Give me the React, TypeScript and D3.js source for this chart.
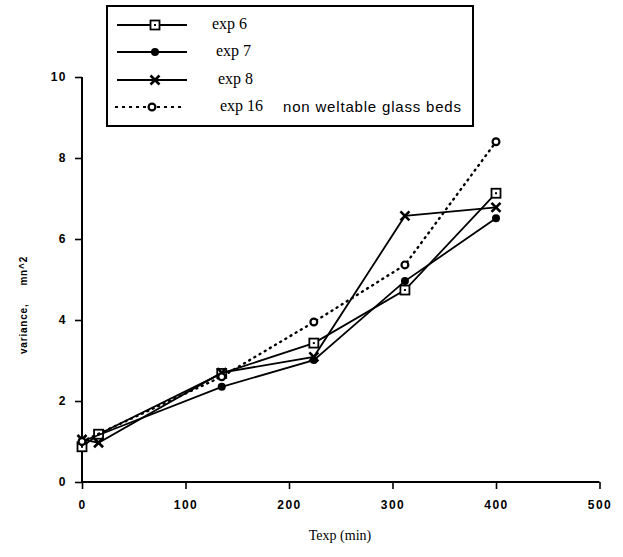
import { useEffect, useRef } from "react";
import * as d3 from "d3";

// series
const times6 = [0, 16, 135, 224, 312, 400];
const values6 = [0.87, 1.18, 2.68, 3.43, 4.74, 7.13];
const times7 = [0, 135, 224, 312, 400];
const values7 = [1.0, 2.35, 3.01, 4.96, 6.51];
const times8 = [0, 16, 135, 224, 312, 400];
const values8 = [1.05, 0.97, 2.7, 3.09, 6.57, 6.78];
const times16 = [0, 135, 224, 312, 400];
const values16 = [1.0, 2.6, 3.95, 5.36, 8.4];

const seriesNames = ["exp 6", "exp 7", "exp 8", "exp 16"];
const legendNote = "non weltable glass beds";
const xMajorTicks = [0, 100, 200, 300, 400, 500];
const xMinorTicks = [50, 150, 250, 350, 450];
const yMajorTicks = [0, 2, 4, 6, 8, 10];
const yMinorTicks = [1, 3, 5, 7, 9];

const App = () => {
  const ref = useRef<SVGSVGElement>(null);

  useEffect(() => {
    document.body.style.margin = "0";
    const svg = d3.select(ref.current);
    svg.selectAll("*").remove();

    const x = d3.scaleLinear().domain([0, 500]).range([82, 599.5]);
    const y = d3.scaleLinear().domain([0, 10]).range([482, 77]);

    const sans = "'Liberation Sans', Arial, sans-serif";
    const serif = "'Liberation Serif', 'Times New Roman', serif";

    // axes
    const gx = svg.append("g").attr("transform", `translate(0,${y(0)})`);
    gx.call(d3.axisBottom(x).tickValues(xMinorTicks).tickSize(4).tickFormat(() => ""));
    gx.call(d3.axisBottom(x).tickValues(xMajorTicks).tickSize(7).tickPadding(11).tickFormat(d3.format("d")));
    gx.selectAll("path.domain").attr("stroke-width", 2).attr("d", `M${x(0)},0H${x(500)}`);

    const gy = svg.append("g").attr("transform", `translate(${x(0)},0)`);
    gy.call(d3.axisLeft(y).tickValues(yMinorTicks).tickSize(4).tickFormat(() => ""));
    gy.call(d3.axisLeft(y).tickValues(yMajorTicks).tickSize(7).tickPadding(8).tickFormat(d3.format("d")));
    gy.selectAll("path.domain").attr("stroke-width", 2).attr("d", `M0,${y(0)}V${y(10)}`);

    svg.selectAll(".tick line").attr("stroke", "#000").attr("stroke-width", 1.6);
    svg
      .selectAll(".tick text")
      .attr("fill", "#000")
      .style("font-family", sans)
      .style("font-size", "12px")
      .style("font-weight", "bold")
      .style("letter-spacing", "1.5px");

    // axis titles
    svg
      .append("text")
      .attr("x", 340)
      .attr("y", 540)
      .attr("text-anchor", "middle")
      .style("font-family", serif)
      .style("font-size", "14px")
      .text("Texp (min)");

    svg
      .append("text")
      .attr("transform", "translate(27,305) rotate(-90)")
      .attr("text-anchor", "middle")
      .style("font-family", sans)
      .style("font-size", "10px")
      .style("font-weight", "bold")
      .style("letter-spacing", "0.8px")
      .style("white-space", "pre")
      .text("variance,     mn^2");

    const line = d3
      .line<[number, number]>()
      .x((d) => x(d[0]))
      .y((d) => y(d[1]));

    const series = [
      { t: times6, v: values6, dash: null, marker: "square" },
      { t: times7, v: values7, dash: null, marker: "dot" },
      { t: times8, v: values8, dash: null, marker: "cross" },
      { t: times16, v: values16, dash: "1,5", marker: "circle" },
    ];

    const drawMarker = (g: any, kind: string, cx: number, cy: number) => {
      if (kind === "square") {
        g.append("rect")
          .attr("x", cx - 4.5)
          .attr("y", cy - 4.5)
          .attr("width", 9)
          .attr("height", 9)
          .attr("fill", "#fff")
          .attr("stroke", "#000")
          .attr("stroke-width", 1.8);
        g.append("rect").attr("x", cx - 1).attr("y", cy - 1).attr("width", 2).attr("height", 2).attr("fill", "#000");
      } else if (kind === "dot") {
        g.append("circle").attr("cx", cx).attr("cy", cy).attr("r", 4).attr("fill", "#000");
      } else if (kind === "cross") {
        const s = 4.5;
        g.append("path")
          .attr("d", `M${cx - s},${cy - s}L${cx + s},${cy + s}M${cx - s},${cy + s}L${cx + s},${cy - s}`)
          .attr("stroke", "#000")
          .attr("stroke-width", 2.6);
      } else {
        g.append("circle")
          .attr("cx", cx)
          .attr("cy", cy)
          .attr("r", 3.4)
          .attr("fill", "#fff")
          .attr("stroke", "#000")
          .attr("stroke-width", 2.2);
      }
    };

    series.forEach((s) => {
      const pts: [number, number][] = s.t.map((t, i) => [t, s.v[i]]);
      const path = svg
        .append("path")
        .datum(pts)
        .attr("d", line)
        .attr("fill", "none")
        .attr("stroke", "#000")
        .attr("stroke-width", s.dash ? 2.4 : 1.8);
      if (s.dash) path.attr("stroke-dasharray", s.dash).attr("stroke-linecap", "round");
      const g = svg.append("g");
      pts.forEach((p) => drawMarker(g, s.marker, x(p[0]), y(p[1])));
    });

    // legend
    const lg = svg.append("g");
    lg.append("rect")
      .attr("x", 107)
      .attr("y", 6)
      .attr("width", 366)
      .attr("height", 120)
      .attr("fill", "#fff")
      .attr("stroke", "#000")
      .attr("stroke-width", 2);

    const rowY = [25, 52, 80, 107];
    const textX = [212, 216, 218, 220];
    series.forEach((s, i) => {
      const ly = rowY[i];
      const l = lg
        .append("line")
        .attr("x1", s.dash ? 115 : 117)
        .attr("x2", s.dash ? 182 : 187)
        .attr("y1", ly)
        .attr("y2", ly)
        .attr("stroke", "#000")
        .attr("stroke-width", s.dash ? 2 : 1.8);
      if (s.dash) l.attr("stroke-dasharray", "3,4");
      drawMarker(lg, s.marker, s.dash ? 152 : 155, ly);
      lg.append("text")
        .attr("x", textX[i])
        .attr("y", ly + 4)
        .style("font-family", serif)
        .style("font-size", "16px")
        .text(seriesNames[i]);
    });
    lg.append("text")
      .attr("x", 283)
      .attr("y", rowY[3] + 5)
      .attr("textLength", 178)
      .style("font-family", sans)
      .style("font-size", "15px")
      .text(legendNote);
  }, []);

  return (
    <div style={{ position: "absolute", left: 0, top: 0 }}>
      <svg ref={ref} width={623} height={557} style={{ display: "block", background: "#fff" }} />
    </div>
  );
};

export default App;
